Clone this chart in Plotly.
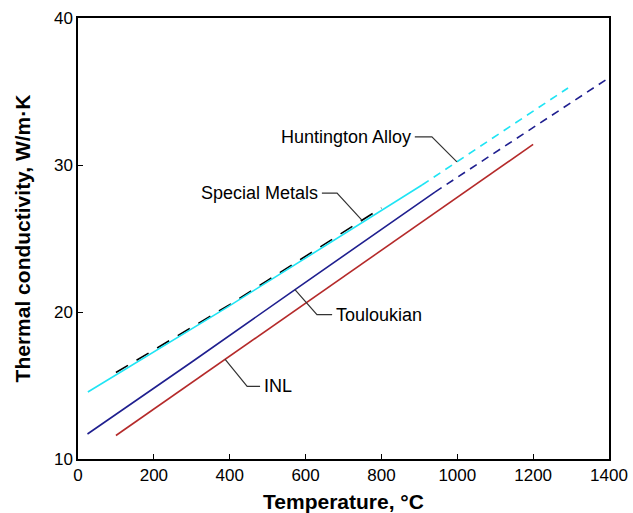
import numpy as np
import plotly.graph_objects as go

# Temperature (°C) and thermal conductivity (W/m·K) for each source
huntington_T = [26, 395, 907, 1292]
huntington_k = [14.56, 20.35, 28.64, 35.24]
huntington_solid_end = 907

special_T = [100, 200, 300, 400, 500, 600, 700, 800]
special_k = [15.88, 17.42, 19.0, 20.5, 22.15, 23.8, 25.42, 27.08]

touloukian_T = [25, 300, 560, 941, 1395]
touloukian_k = [11.7, 16.6, 21.3, 28.16, 35.85]
touloukian_solid_end = 941

inl_T = [100, 1200]
inl_k = [11.6, 31.4]

x_ticks = [0, 200, 400, 600, 800, 1000, 1200, 1400]
y_ticks = [10, 20, 30, 40]

FONT = "Liberation Sans, Arial, sans-serif"
CYAN = "#1fe4f4"
NAVY = "#1f1f8f"
RED = "#b52a2a"
LEADER = "#333333"


def split(T, k, cut):
    """Split a curve into a measured (solid) part and an extrapolated (dashed) part."""
    T = np.asarray(T, float)
    k = np.asarray(k, float)
    kc = float(np.interp(cut, T, k))
    lo = T < cut
    hi = T > cut
    return (np.r_[T[lo], cut], np.r_[k[lo], kc]), (np.r_[cut, T[hi]], np.r_[kc, k[hi]])


fig = go.Figure()

(hs_T, hs_k), (hd_T, hd_k) = split(huntington_T, huntington_k, huntington_solid_end)
(ts_T, ts_k), (td_T, td_k) = split(touloukian_T, touloukian_k, touloukian_solid_end)

fig.add_trace(go.Scatter(x=inl_T, y=inl_k, mode="lines",
                         line=dict(color=RED, width=1.6)))
fig.add_trace(go.Scatter(x=ts_T, y=ts_k, mode="lines",
                         line=dict(color=NAVY, width=1.6)))
fig.add_trace(go.Scatter(x=td_T, y=td_k, mode="lines",
                         line=dict(color=NAVY, width=1.6, dash="8px,6px")))
fig.add_trace(go.Scatter(x=special_T, y=special_k, mode="lines",
                         line=dict(color="black", width=1.6, dash="14px,10px")))
fig.add_trace(go.Scatter(x=hs_T, y=hs_k, mode="lines",
                         line=dict(color=CYAN, width=1.6)))
fig.add_trace(go.Scatter(x=hd_T, y=hd_k, mode="lines",
                         line=dict(color=CYAN, width=1.6, dash="8px,6px")))


def leader(T, k, anchor_T, elbow_dT, elbow_dk, tail_dT, text, side):
    """Elbow leader line from a curve point to its label."""
    ak = float(np.interp(anchor_T, T, k))
    ex, ey = anchor_T + elbow_dT, ak + elbow_dk
    tx = ex + tail_dT
    fig.add_trace(go.Scatter(x=[anchor_T, ex, tx], y=[ak, ey, ey], mode="lines",
                             line=dict(color=LEADER, width=1.2)))
    fig.add_annotation(x=tx, y=ey, text=text, showarrow=False,
                       xanchor=side, yanchor="middle", xshift=-2 if side == "right" else 2,
                       font=dict(family=FONT, size=18, color="black"))


leader(huntington_T, huntington_k, 999, -66, 1.7, -45, "Huntington Alloy", "right")
leader(special_T, special_k, 749, -66, 1.85, -40, "Special Metals", "right")
leader(touloukian_T, touloukian_k, 572, 58, -1.7, 40, "Touloukian", "left")
leader(inl_T, inl_k, 388, 58, -1.85, 34, "INL", "left")

axis_common = dict(showgrid=False, zeroline=False, showline=True, mirror=True,
                   linecolor="black", linewidth=1.5, ticks="inside", ticklen=5,
                   tickcolor="black", tickwidth=1.2, automargin=False,
                   tickfont=dict(family=FONT, size=17, color="black"))

fig.update_layout(
    width=633, height=513,
    margin=dict(l=78, r=24, t=18, b=54),
    paper_bgcolor="white", plot_bgcolor="white",
    showlegend=False,
    xaxis=dict(range=[0, 1400], tickvals=x_ticks, **axis_common,
               title=dict(text="<b>Temperature, °C</b>", standoff=11,
                          font=dict(family=FONT, size=21, color="black"))),
    yaxis=dict(range=[10, 40], tickvals=y_ticks, **axis_common,
               title=dict(text="<b>Thermal conductivity, W/m·K</b>", standoff=18,
                          font=dict(family=FONT, size=21, color="black"))),
)

fig.write_html("out.html")
